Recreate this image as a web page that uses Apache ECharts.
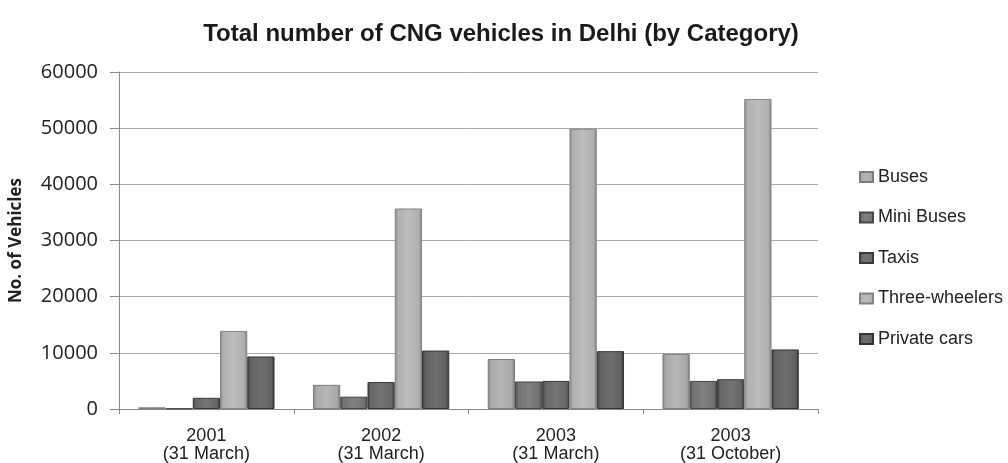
<!DOCTYPE html>
<html>
<head>
<meta charset="utf-8">
<title>CNG vehicles in Delhi</title>
<script src="https://cdn.jsdelivr.net/npm/echarts@6/dist/echarts.min.js"></script>
<style>
    html, body { margin: 0; padding: 0; background: #fff; }
    #chart { width: 1008px; height: 463px; }
</style>
</head>
<body>
<div id="chart"></div>
<script>
// =============================数据===============================

let categories = ['2001\n(31 March)', '2002\n(31 March)', '2003\n(31 March)', '2003\n(31 October)'];
let seriesNames = ['Buses', 'Mini Buses', 'Taxis', 'Three-wheelers', 'Private cars'];

let buses = [300, 4300, 8900, 9800];
let miniBuses = [100, 2200, 4900, 5000];
let taxis = [2000, 4800, 5000, 5300];
let threeWheelers = [13900, 35700, 49900, 55200];
let privateCars = [9350, 10400, 10300, 10600];

let yTicks = [0, 10000, 20000, 30000, 40000, 50000, 60000];

// 灰度配色（中间亮，两边暗）
let barColors = ['#a4a4a4', '#6e6e6e', '#626262', '#ababab', '#5c5c5c'];

// =============================工具函数===============================

function shade(hex, amt) {
    let n = parseInt(hex.slice(1), 16);
    let r = Math.min(255, Math.max(0, (n >> 16) + amt));
    let g = Math.min(255, Math.max(0, ((n >> 8) & 255) + amt));
    let b = Math.min(255, Math.max(0, (n & 255) + amt));
    return 'rgb(' + r + ',' + g + ',' + b + ')';
}

function bevel(hex) {
    return new echarts.graphic.LinearGradient(0, 0, 1, 0, [
        { offset: 0, color: shade(hex, -35) },
        { offset: 0.12, color: shade(hex, 5) },
        { offset: 0.5, color: shade(hex, 18) },
        { offset: 0.88, color: shade(hex, 5) },
        { offset: 1, color: shade(hex, -40) }
    ]);
}

function makeSeries(name, data, i) {
    return {
        name: name,
        type: 'bar',
        data: data,
        barGap: '0%',
        barCategoryGap: '22%',
        itemStyle: {
            color: bevel(barColors[i]),
            borderColor: shade(barColors[i], -40),
            borderWidth: 1
        }
    };
}

// =============================配置===============================

let allData = [buses, miniBuses, taxis, threeWheelers, privateCars];

let option = {
    animation: false,
    backgroundColor: '#ffffff',
    title: {
        text: 'Total number of CNG vehicles in Delhi (by Category)',
        left: 496,
        textAlign: 'center',
        top: 17,
        textStyle: {
            fontFamily: 'Liberation Sans',
            fontWeight: 'bold',
            fontSize: 24,
            color: '#1a1a1a'
        }
    },
    legend: {
        orient: 'vertical',
        left: 854,
        top: 163,
        itemWidth: 13,
        itemHeight: 10,
        itemGap: 22.5,
        icon: 'rect',
        data: seriesNames,
        textStyle: {
            fontFamily: 'Liberation Sans',
            fontSize: 18,
            color: '#222'
        }
    },
    grid: {
        left: 116,
        right: 190,
        top: 72,
        bottom: 54,
        containLabel: false
    },
    xAxis: {
        type: 'category',
        data: categories,
        axisLine: { lineStyle: { color: '#888', width: 1 } },
        axisTick: { show: true, length: 5, lineStyle: { color: '#888' } },
        axisLabel: {
            margin: 18,
            fontFamily: 'Liberation Sans',
            fontSize: 18,
            lineHeight: 18,
            color: '#222'
        }
    },
    yAxis: {
        type: 'value',
        min: yTicks[0],
        max: yTicks[yTicks.length - 1],
        interval: 10000,
        name: 'No. of Vehicles',
        nameLocation: 'middle',
        nameGap: 94,
        nameTextStyle: {
            fontFamily: 'Open Sans',
            fontWeight: 'bold',
            fontSize: 17,
            color: '#222'
        },
        axisLine: { show: true, lineStyle: { color: '#888' } },
        axisTick: { show: true, length: 9, lineStyle: { color: '#888' } },
        axisLabel: {
            margin: 21,
            fontFamily: 'Open Sans',
            fontSize: 20,
            color: '#222',
            formatter: function (v) { return String(v); }
        },
        splitLine: { lineStyle: { color: '#a8a8a8', width: 1 } }
    },
    series: seriesNames.map(function (n, i) { return makeSeries(n, allData[i], i); })
};

// =============================设置属性===============================

echarts.init(document.getElementById('chart')).setOption(option);
</script>
</body>
</html>
